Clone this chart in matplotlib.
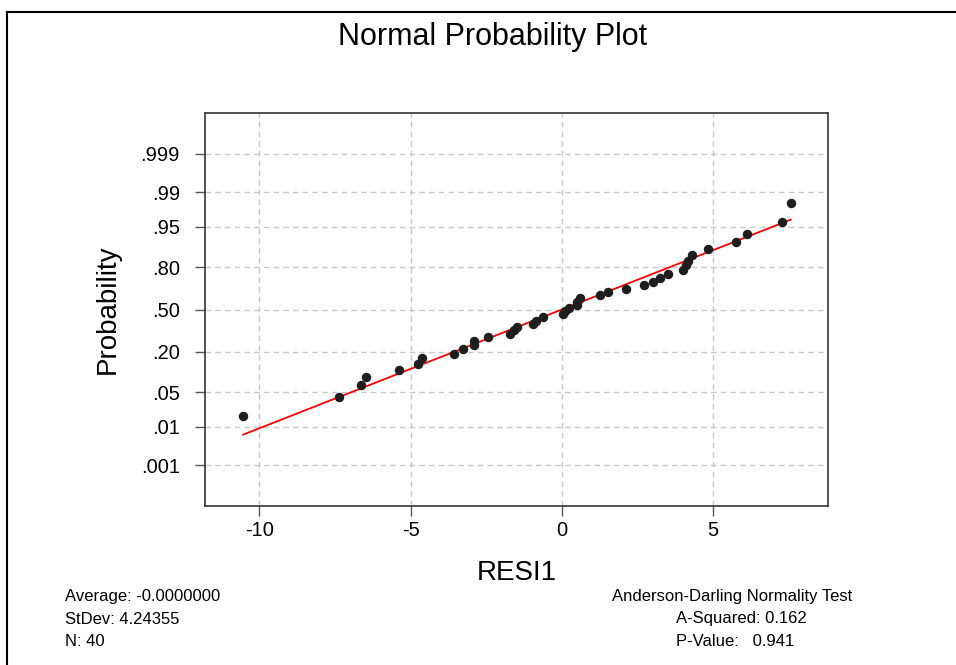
import numpy as np
import matplotlib.pyplot as plt
from matplotlib.lines import Line2D
from statistics import NormalDist

# Residuals (sorted)
residuals = [-10.54, -7.37, -6.63, -6.48, -5.39, -4.76, -4.61, -3.57, -3.27, -2.92,
             -2.90, -2.45, -1.73, -1.59, -1.48, -0.96, -0.86, -0.63, 0.04, 0.12,
             0.23, 0.49, 0.51, 0.59, 1.25, 1.52, 2.12, 2.72, 3.03, 3.25,
             3.52, 3.99, 4.11, 4.16, 4.30, 4.82, 5.75, 6.12, 7.29, 7.57]
prob_ticks = [0.001, 0.01, 0.05, 0.20, 0.50, 0.80, 0.95, 0.99, 0.999]
prob_labels = ['.001', '.01', '.05', '.20', '.50', '.80', '.95', '.99', '.999']
x_ticks = [-10, -5, 0, 5]
mean_val = 0.0
sd_val = 4.24355
left_stats = ['Average: -0.0000000', 'StDev: 4.24355', 'N: 40']
right_stats = ['Anderson-Darling Normality Test', 'A-Squared: 0.162', 'P-Value:   0.941']

nd = NormalDist()
x = np.sort(np.array(residuals))
n = len(x)
ranks = np.arange(1, n + 1)
z_pts = np.array([nd.inv_cdf((i - 0.3) / (n + 0.4)) for i in ranks])  # median ranks
z_ticks = [nd.inv_cdf(p) for p in prob_ticks]

plt.rcParams['font.family'] = ['Liberation Sans', 'DejaVu Sans']
plt.rcParams['axes.unicode_minus'] = False

fig = plt.figure(figsize=(9.56, 6.65), dpi=100)
ax = fig.add_axes([205 / 956, 1 - 506 / 665, 623 / 956, 393 / 665])

# fitted normal line
xl = np.array([x.min(), x.max()])
ax.plot(xl, (xl - mean_val) / sd_val, color='red', lw=1.3, zorder=3)
ax.plot(x, z_pts, 'o', color='#1e1e1e', ms=5.8, zorder=4)

ax.set_xlim(-11.8, 8.8)
ax.set_ylim(-3.9, 3.9)
ax.set_xticks(x_ticks)
ax.set_yticks(z_ticks)
ax.set_yticklabels(prob_labels)
ax.grid(True, color='#c8c8c8', linestyle=(0, (4, 3)), lw=1)
ax.set_axisbelow(True)
for s in ax.spines.values():
    s.set_color('#333333')
    s.set_linewidth(1.2)
ax.tick_params(axis='both', direction='out', length=7, width=1, color='#555555', labelsize=14.5)
ax.tick_params(axis='y', pad=11)
ax.tick_params(axis='x', pad=4)

ax.set_xlabel('RESI1', fontsize=20, labelpad=14)
ax.set_ylabel('Probability', fontsize=20, labelpad=14)
fig.text(493 / 956, 1 - 37 / 665, 'Normal Probability Plot', ha='center', va='center', fontsize=22)

for k, t in enumerate(left_stats):
    fig.text(65 / 956, 1 - (597 + 22 * k) / 665, t, ha='left', va='center', fontsize=12)
fig.text(732 / 956, 1 - 597 / 665, right_stats[0], ha='center', va='center', fontsize=12)
for k, t in enumerate(right_stats[1:]):
    fig.text(676 / 956, 1 - (619 + 22 * k) / 665, t, ha='left', va='center', fontsize=12)

# outer frame
fig.add_artist(Line2D([7 / 956, 1], [1 - 12 / 665, 1 - 12 / 665], color='black', lw=1.5))
fig.add_artist(Line2D([7 / 956, 7 / 956], [0, 1 - 12 / 665], color='black', lw=1.5))

fig.savefig('out.png', dpi=100)
